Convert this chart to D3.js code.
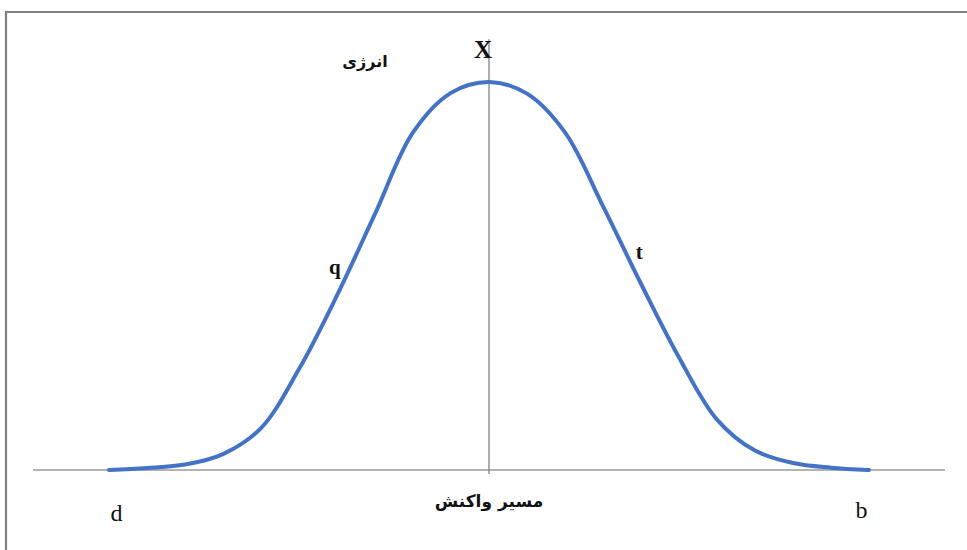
<!DOCTYPE html>
<html>
<head>
<meta charset="utf-8">
<script src="https://cdn.jsdelivr.net/npm/d3@7"></script>
<style>
  html, body { margin: 0; padding: 0; background: #fff; }
  svg { display: block; }
</style>
</head>
<body>
<svg id="chart" width="967" height="550"></svg>
<script>
// Reaction coordinate positions (left "d" = -5, transition state X = 0, right "b" = 5)
const reactionCoord = [-5, -4.5, -4, -3.5, -3, -2.5, -2, -1.5, -1, -0.5, 0, 0.5, 1, 1.5, 2, 2.5, 3, 3.5, 4, 4.5, 5];
// Energy along the path (peak normalised to 100)
const energy = [0, 0.5, 1.4, 4.1, 10.8, 26, 45, 66, 87, 97.2, 100, 97, 87, 68, 48, 29, 13, 5, 1.8, 0.6, 0];
// Point labels and their reaction coordinates
const pointLabels = ["d", "q", "X", "t", "b"];
const pointCoords = [-4.9, -1.95, 0, 1.95, 4.9];
const axisTitleY = "انرژی";
const axisTitleX = "مسیر واکنش";

const svg = d3.select("#chart");
const W = 967, H = 550;

const x = d3.scaleLinear().domain([-6, 6]).range([33, 945]);
const y = d3.scaleLinear().domain([0, 100]).range([470, 82]);

// Outer frame (left and top edges)
svg.append("path")
  .attr("d", `M6,${H} L6,12 L${W},12`)
  .attr("fill", "none")
  .attr("stroke", "#808080")
  .attr("stroke-width", 2.2);

// Horizontal axis (reaction path)
svg.append("line")
  .attr("x1", x(-6)).attr("x2", x(6))
  .attr("y1", y(0)).attr("y2", y(0))
  .attr("stroke", "#9a9a9a").attr("stroke-width", 1.6);

// Vertical line through the transition state
svg.append("line")
  .attr("x1", x(0)).attr("x2", x(0))
  .attr("y1", y(111)).attr("y2", y(0) + 4)
  .attr("stroke", "#8a8a8a").attr("stroke-width", 1.4);

// Energy curve
const pts = reactionCoord.map((c, i) => [c, energy[i]]);
const line = d3.line()
  .x(d => x(d[0]))
  .y(d => y(d[1]))
  .curve(d3.curveCatmullRom.alpha(0.5));

svg.append("path")
  .datum(pts)
  .attr("d", line)
  .attr("fill", "none")
  .attr("stroke", "#4472c4")
  .attr("stroke-width", 4)
  .attr("stroke-linecap", "round");

// Letter labels, placed relative to their reaction coordinate
const serif = "'Liberation Serif', 'DejaVu Serif', serif";
const labelStyle = {
  d: [0, 521, 24, "normal"],
  b: [0, 518, 24, "normal"],
  X: [-6, 58, 25, "bold"],
  q: [-6, 274, 21, "bold"],
  t: [2, 259, 21, "bold"]
};
pointLabels.forEach((l, i) => {
  const s = labelStyle[l];
  svg.append("text")
    .attr("x", x(pointCoords[i]) + s[0]).attr("y", s[1])
    .attr("text-anchor", "middle")
    .attr("font-family", serif)
    .attr("font-size", s[2])
    .attr("font-weight", s[3])
    .attr("fill", "#111")
    .text(l);
});

// Persian axis titles
svg.append("text")
  .attr("x", 365).attr("y", 67)
  .attr("text-anchor", "middle")
  .attr("direction", "rtl")
  .attr("font-family", "'DejaVu Sans', sans-serif")
  .attr("font-size", 16)
  .attr("font-weight", "bold")
  .attr("fill", "#111")
  .text(axisTitleY);

svg.append("text")
  .attr("x", x(0)).attr("y", 507)
  .attr("text-anchor", "middle")
  .attr("direction", "rtl")
  .attr("font-family", "'DejaVu Sans', sans-serif")
  .attr("font-size", 17)
  .attr("font-weight", "bold")
  .attr("fill", "#111")
  .text(axisTitleX);
</script>
</body>
</html>
